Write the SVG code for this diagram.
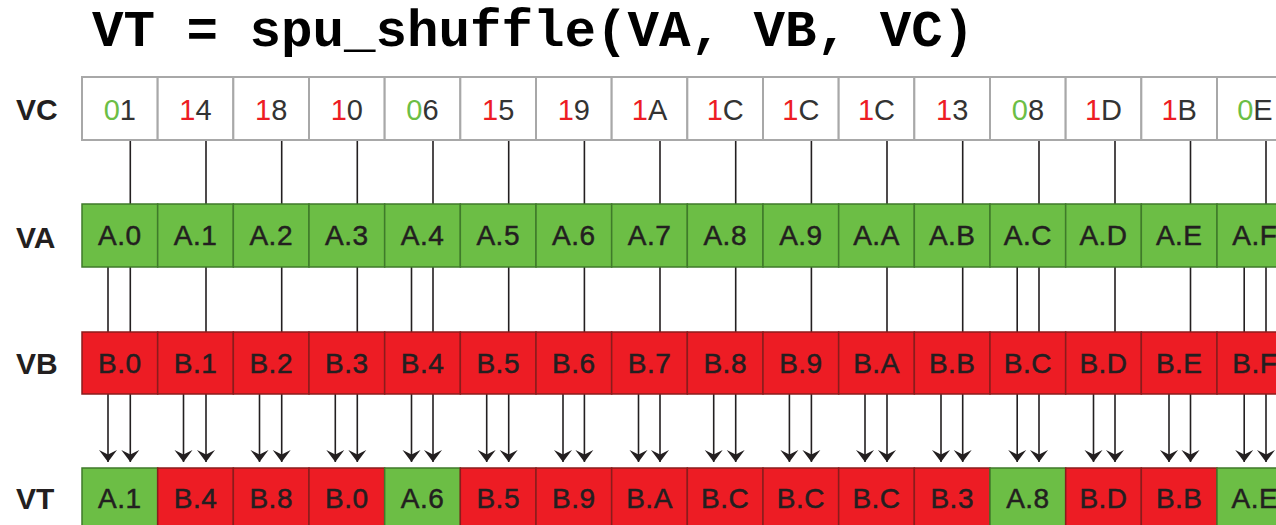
<svg xmlns="http://www.w3.org/2000/svg" width="1276" height="525" viewBox="0 0 1276 525">
<style>
.title{font-family:"Liberation Mono","Courier New",monospace;font-weight:bold;font-size:52.5px;fill:#000}
.lbl{font-family:"Liberation Sans",Arial,sans-serif;font-weight:bold;font-size:30px;fill:#231f20}
.ct{font-family:"Liberation Sans",Arial,sans-serif;font-size:28px;letter-spacing:0.5px;fill:#231f20;stroke:#231f20;stroke-width:0.5;text-anchor:middle}
.vt{font-family:"Liberation Sans",Arial,sans-serif;font-size:29px;fill:#333;text-anchor:middle}
.g{fill:#6cbe45}
.r{fill:#ed1c24}
.cw{fill:#fff;stroke:#a8a8a8;stroke-width:2}
.cg{fill:#6cbe45;stroke:#3f7a2a;stroke-width:1.5}
.cr{fill:#ed1c24;stroke:#8a1c1c;stroke-width:1.5}
.ln{fill:none;stroke:#231f20;stroke-width:1.6;marker-end:url(#ah)}
</style>
<defs>
<marker id="ah" markerUnits="userSpaceOnUse" viewBox="-13 -10 14 20" markerWidth="14" markerHeight="20" refX="0" refY="0" orient="auto">
<path d="M0,0 L-12,-9 L-7.5,0 L-12,9 Z" fill="#231f20"/>
</marker>
</defs>
<rect width="1276" height="525" fill="#fff"/>
<text class="title" x="92" y="46">VT = spu_shuffle(VA, VB, VC)</text>
<g id="labels">
<text class="lbl" x="16" y="120">VC</text>
<text class="lbl" x="16" y="248">VA</text>
<text class="lbl" x="16" y="374">VB</text>
<text class="lbl" x="16" y="509">VT</text>
</g>
<g id="connectors">
<path class="ln" d="M130.3,140V204M130.3,267V332M130.3,394V462"/>
<path class="ln" d="M206,140V204M206,267V332M206,394V462"/>
<path class="ln" d="M281.7,140V204M281.7,267V332M281.7,394V462"/>
<path class="ln" d="M357.3,140V204M357.3,267V332M357.3,394V462"/>
<path class="ln" d="M433,140V204M433,267V332M433,394V462"/>
<path class="ln" d="M508.7,140V204M508.7,267V332M508.7,394V462"/>
<path class="ln" d="M584.4,140V204M584.4,267V332M584.4,394V462"/>
<path class="ln" d="M660,140V204M660,267V332M660,394V462"/>
<path class="ln" d="M735.7,140V204M735.7,267V332M735.7,394V462"/>
<path class="ln" d="M811.4,140V204M811.4,267V332M811.4,394V462"/>
<path class="ln" d="M887,140V204M887,267V332M887,394V462"/>
<path class="ln" d="M962.7,140V204M962.7,267V332M962.7,394V462"/>
<path class="ln" d="M1039,140V204M1039,267V332M1039,394V462"/>
<path class="ln" d="M1115,140V204M1115,267V332M1115,394V462"/>
<path class="ln" d="M1190.5,140V204M1190.5,267V332M1190.5,394V462"/>
<path class="ln" d="M1266,140V204M1266,267V332M1266,394V462"/>
<path class="ln" d="M108,267V332M108,394V462"/>
<path class="ln" d="M183.5,394V462"/>
<path class="ln" d="M259.5,394V462"/>
<path class="ln" d="M335.3,394V462"/>
<path class="ln" d="M411.5,267V332M411.5,394V462"/>
<path class="ln" d="M486.7,394V462"/>
<path class="ln" d="M563,394V462"/>
<path class="ln" d="M638.5,394V462"/>
<path class="ln" d="M713.7,394V462"/>
<path class="ln" d="M789.4,394V462"/>
<path class="ln" d="M865,394V462"/>
<path class="ln" d="M941,394V462"/>
<path class="ln" d="M1017.2,267V332M1017.2,394V462"/>
<path class="ln" d="M1093.5,394V462"/>
<path class="ln" d="M1169,394V462"/>
<path class="ln" d="M1244.2,267V332M1244.2,394V462"/>
</g>
<g id="row-VC">
<g id="vc0"><rect class="cw" x="82" y="77" width="75.67" height="63"/><text class="vt" x="119.8" y="120"><tspan class="g">0</tspan>1</text></g>
<g id="vc1"><rect class="cw" x="157.67" y="77" width="75.67" height="63"/><text class="vt" x="195.5" y="120"><tspan class="r">1</tspan>4</text></g>
<g id="vc2"><rect class="cw" x="233.33" y="77" width="75.67" height="63"/><text class="vt" x="271.2" y="120"><tspan class="r">1</tspan>8</text></g>
<g id="vc3"><rect class="cw" x="309" y="77" width="75.67" height="63"/><text class="vt" x="346.8" y="120"><tspan class="r">1</tspan>0</text></g>
<g id="vc4"><rect class="cw" x="384.67" y="77" width="75.67" height="63"/><text class="vt" x="422.5" y="120"><tspan class="g">0</tspan>6</text></g>
<g id="vc5"><rect class="cw" x="460.33" y="77" width="75.67" height="63"/><text class="vt" x="498.2" y="120"><tspan class="r">1</tspan>5</text></g>
<g id="vc6"><rect class="cw" x="536" y="77" width="75.67" height="63"/><text class="vt" x="573.8" y="120"><tspan class="r">1</tspan>9</text></g>
<g id="vc7"><rect class="cw" x="611.67" y="77" width="75.67" height="63"/><text class="vt" x="649.5" y="120"><tspan class="r">1</tspan>A</text></g>
<g id="vc8"><rect class="cw" x="687.33" y="77" width="75.67" height="63"/><text class="vt" x="725.2" y="120"><tspan class="r">1</tspan>C</text></g>
<g id="vc9"><rect class="cw" x="763" y="77" width="75.67" height="63"/><text class="vt" x="800.9" y="120"><tspan class="r">1</tspan>C</text></g>
<g id="vc10"><rect class="cw" x="838.67" y="77" width="75.67" height="63"/><text class="vt" x="876.5" y="120"><tspan class="r">1</tspan>C</text></g>
<g id="vc11"><rect class="cw" x="914.33" y="77" width="75.67" height="63"/><text class="vt" x="952.2" y="120"><tspan class="r">1</tspan>3</text></g>
<g id="vc12"><rect class="cw" x="990" y="77" width="75.67" height="63"/><text class="vt" x="1027.9" y="120"><tspan class="g">0</tspan>8</text></g>
<g id="vc13"><rect class="cw" x="1065.67" y="77" width="75.67" height="63"/><text class="vt" x="1103.5" y="120"><tspan class="r">1</tspan>D</text></g>
<g id="vc14"><rect class="cw" x="1141.33" y="77" width="75.67" height="63"/><text class="vt" x="1179.2" y="120"><tspan class="r">1</tspan>B</text></g>
<g id="vc15"><rect class="cw" x="1217" y="77" width="75.67" height="63"/><text class="vt" x="1254.9" y="120"><tspan class="g">0</tspan>E</text></g>
</g>
<g id="row-VA">
<g id="va0"><rect class="cg" x="82" y="204" width="75.67" height="63"/><text class="ct" x="119.8" y="245">A.0</text></g>
<g id="va1"><rect class="cg" x="157.67" y="204" width="75.67" height="63"/><text class="ct" x="195.5" y="245">A.1</text></g>
<g id="va2"><rect class="cg" x="233.33" y="204" width="75.67" height="63"/><text class="ct" x="271.2" y="245">A.2</text></g>
<g id="va3"><rect class="cg" x="309" y="204" width="75.67" height="63"/><text class="ct" x="346.8" y="245">A.3</text></g>
<g id="va4"><rect class="cg" x="384.67" y="204" width="75.67" height="63"/><text class="ct" x="422.5" y="245">A.4</text></g>
<g id="va5"><rect class="cg" x="460.33" y="204" width="75.67" height="63"/><text class="ct" x="498.2" y="245">A.5</text></g>
<g id="va6"><rect class="cg" x="536" y="204" width="75.67" height="63"/><text class="ct" x="573.8" y="245">A.6</text></g>
<g id="va7"><rect class="cg" x="611.67" y="204" width="75.67" height="63"/><text class="ct" x="649.5" y="245">A.7</text></g>
<g id="va8"><rect class="cg" x="687.33" y="204" width="75.67" height="63"/><text class="ct" x="725.2" y="245">A.8</text></g>
<g id="va9"><rect class="cg" x="763" y="204" width="75.67" height="63"/><text class="ct" x="800.9" y="245">A.9</text></g>
<g id="va10"><rect class="cg" x="838.67" y="204" width="75.67" height="63"/><text class="ct" x="876.5" y="245">A.A</text></g>
<g id="va11"><rect class="cg" x="914.33" y="204" width="75.67" height="63"/><text class="ct" x="952.2" y="245">A.B</text></g>
<g id="va12"><rect class="cg" x="990" y="204" width="75.67" height="63"/><text class="ct" x="1027.9" y="245">A.C</text></g>
<g id="va13"><rect class="cg" x="1065.67" y="204" width="75.67" height="63"/><text class="ct" x="1103.5" y="245">A.D</text></g>
<g id="va14"><rect class="cg" x="1141.33" y="204" width="75.67" height="63"/><text class="ct" x="1179.2" y="245">A.E</text></g>
<g id="va15"><rect class="cg" x="1217" y="204" width="75.67" height="63"/><text class="ct" x="1254.9" y="245">A.F</text></g>
</g>
<g id="row-VB">
<g id="vb0"><rect class="cr" x="82" y="332" width="75.67" height="62"/><text class="ct" x="119.8" y="373">B.0</text></g>
<g id="vb1"><rect class="cr" x="157.67" y="332" width="75.67" height="62"/><text class="ct" x="195.5" y="373">B.1</text></g>
<g id="vb2"><rect class="cr" x="233.33" y="332" width="75.67" height="62"/><text class="ct" x="271.2" y="373">B.2</text></g>
<g id="vb3"><rect class="cr" x="309" y="332" width="75.67" height="62"/><text class="ct" x="346.8" y="373">B.3</text></g>
<g id="vb4"><rect class="cr" x="384.67" y="332" width="75.67" height="62"/><text class="ct" x="422.5" y="373">B.4</text></g>
<g id="vb5"><rect class="cr" x="460.33" y="332" width="75.67" height="62"/><text class="ct" x="498.2" y="373">B.5</text></g>
<g id="vb6"><rect class="cr" x="536" y="332" width="75.67" height="62"/><text class="ct" x="573.8" y="373">B.6</text></g>
<g id="vb7"><rect class="cr" x="611.67" y="332" width="75.67" height="62"/><text class="ct" x="649.5" y="373">B.7</text></g>
<g id="vb8"><rect class="cr" x="687.33" y="332" width="75.67" height="62"/><text class="ct" x="725.2" y="373">B.8</text></g>
<g id="vb9"><rect class="cr" x="763" y="332" width="75.67" height="62"/><text class="ct" x="800.9" y="373">B.9</text></g>
<g id="vb10"><rect class="cr" x="838.67" y="332" width="75.67" height="62"/><text class="ct" x="876.5" y="373">B.A</text></g>
<g id="vb11"><rect class="cr" x="914.33" y="332" width="75.67" height="62"/><text class="ct" x="952.2" y="373">B.B</text></g>
<g id="vb12"><rect class="cr" x="990" y="332" width="75.67" height="62"/><text class="ct" x="1027.9" y="373">B.C</text></g>
<g id="vb13"><rect class="cr" x="1065.67" y="332" width="75.67" height="62"/><text class="ct" x="1103.5" y="373">B.D</text></g>
<g id="vb14"><rect class="cr" x="1141.33" y="332" width="75.67" height="62"/><text class="ct" x="1179.2" y="373">B.E</text></g>
<g id="vb15"><rect class="cr" x="1217" y="332" width="75.67" height="62"/><text class="ct" x="1254.9" y="373">B.F</text></g>
</g>
<g id="row-VT">
<g id="vt0"><rect class="cg" x="82" y="468" width="75.67" height="64"/><text class="ct" x="119.8" y="508">A.1</text></g>
<g id="vt1"><rect class="cr" x="157.67" y="468" width="75.67" height="64"/><text class="ct" x="195.5" y="508">B.4</text></g>
<g id="vt2"><rect class="cr" x="233.33" y="468" width="75.67" height="64"/><text class="ct" x="271.2" y="508">B.8</text></g>
<g id="vt3"><rect class="cr" x="309" y="468" width="75.67" height="64"/><text class="ct" x="346.8" y="508">B.0</text></g>
<g id="vt4"><rect class="cg" x="384.67" y="468" width="75.67" height="64"/><text class="ct" x="422.5" y="508">A.6</text></g>
<g id="vt5"><rect class="cr" x="460.33" y="468" width="75.67" height="64"/><text class="ct" x="498.2" y="508">B.5</text></g>
<g id="vt6"><rect class="cr" x="536" y="468" width="75.67" height="64"/><text class="ct" x="573.8" y="508">B.9</text></g>
<g id="vt7"><rect class="cr" x="611.67" y="468" width="75.67" height="64"/><text class="ct" x="649.5" y="508">B.A</text></g>
<g id="vt8"><rect class="cr" x="687.33" y="468" width="75.67" height="64"/><text class="ct" x="725.2" y="508">B.C</text></g>
<g id="vt9"><rect class="cr" x="763" y="468" width="75.67" height="64"/><text class="ct" x="800.9" y="508">B.C</text></g>
<g id="vt10"><rect class="cr" x="838.67" y="468" width="75.67" height="64"/><text class="ct" x="876.5" y="508">B.C</text></g>
<g id="vt11"><rect class="cr" x="914.33" y="468" width="75.67" height="64"/><text class="ct" x="952.2" y="508">B.3</text></g>
<g id="vt12"><rect class="cg" x="990" y="468" width="75.67" height="64"/><text class="ct" x="1027.9" y="508">A.8</text></g>
<g id="vt13"><rect class="cr" x="1065.67" y="468" width="75.67" height="64"/><text class="ct" x="1103.5" y="508">B.D</text></g>
<g id="vt14"><rect class="cr" x="1141.33" y="468" width="75.67" height="64"/><text class="ct" x="1179.2" y="508">B.B</text></g>
<g id="vt15"><rect class="cg" x="1217" y="468" width="75.67" height="64"/><text class="ct" x="1254.9" y="508">A.E</text></g>
</g>
</svg>
